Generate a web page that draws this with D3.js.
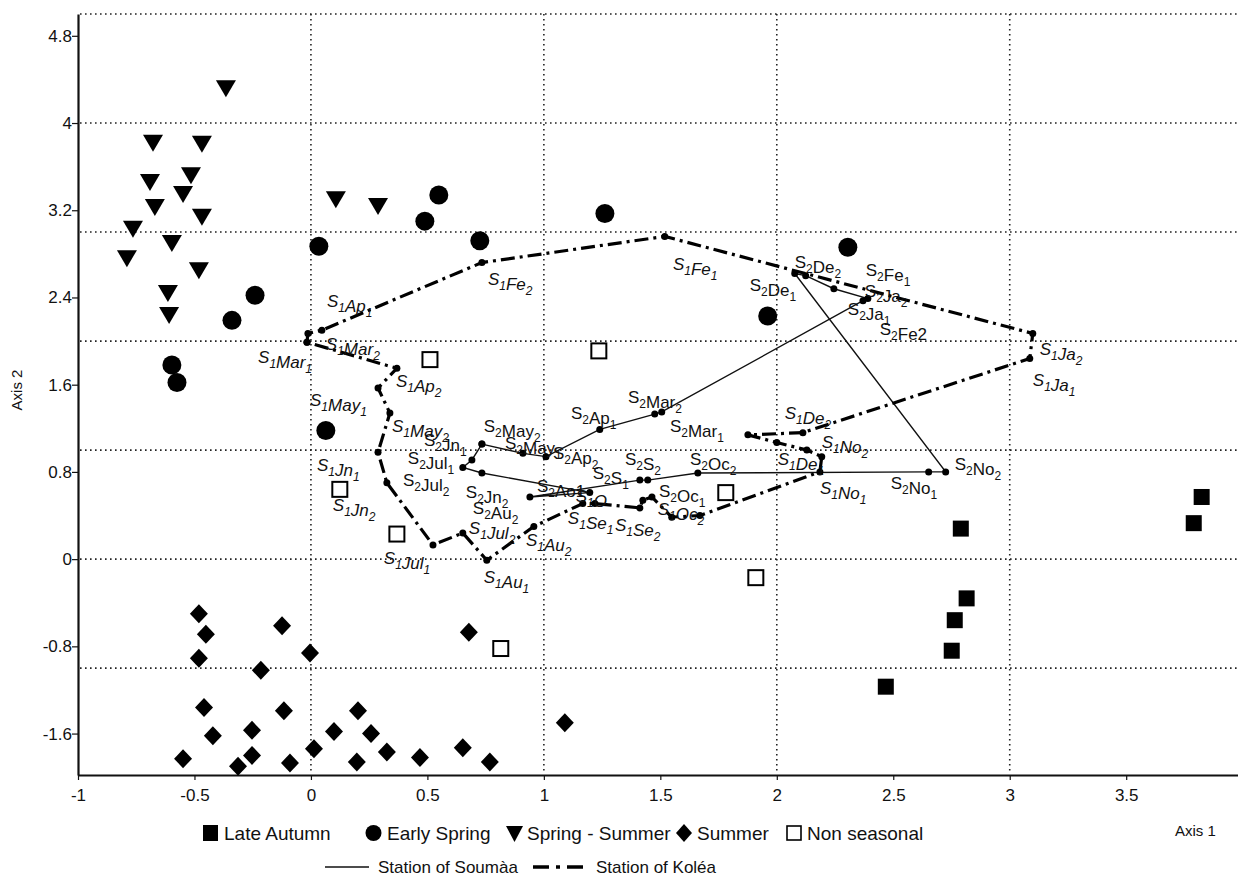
<!DOCTYPE html>
<html>
<head>
<meta charset="utf-8">
<script src="https://cdn.jsdelivr.net/npm/d3@7/dist/d3.min.js"></script>
<style>
  html, body { margin: 0; padding: 0; background: #fff; }
  svg { display: block; }
  text { font-family: "Liberation Sans", Arial, sans-serif; fill: #111; }
</style>
</head>
<body>
<svg id="chart" width="1238" height="881"></svg>
<script>
// ---------------- DATA ----------------
const lateAutumn = [[2.790,0.28],[2.815,-0.36],[2.764,-0.56],[2.751,-0.84],[2.468,-1.17],[3.824,0.57],[3.790,0.33]];
const earlySpring = [[-0.597,1.78],[-0.575,1.62],[-0.339,2.19],[-0.240,2.42],[0.034,2.87],[0.064,1.18],
  [0.489,3.10],[0.549,3.34],[0.725,2.92],[1.262,3.17],[2.305,2.86],[1.961,2.23]];
const springSummer = [[-0.365,4.32],[-0.678,3.82],[-0.468,3.81],[-0.691,3.46],[-0.515,3.52],[-0.549,3.35],
  [-0.670,3.23],[-0.468,3.14],[-0.764,3.03],[-0.597,2.90],[-0.790,2.76],[-0.481,2.65],[-0.614,2.44],
  [-0.609,2.24],[0.107,3.30],[0.288,3.24]];
const summer = [[-0.481,-0.50],[-0.451,-0.69],[-0.481,-0.91],[-0.459,-1.36],[-0.421,-1.62],[-0.549,-1.83],
  [-0.253,-1.57],[-0.253,-1.80],[-0.313,-1.90],[-0.215,-1.02],[-0.124,-0.61],[-0.004,-0.86],[-0.116,-1.39],
  [0.013,-1.74],[-0.090,-1.87],[0.099,-1.58],[0.202,-1.39],[0.197,-1.86],[0.326,-1.77],[0.258,-1.60],
  [0.468,-1.82],[0.652,-1.73],[0.768,-1.86],[0.678,-0.67],[1.090,-1.50]];
const nonSeasonal = [[0.511,1.83],[1.236,1.91],[0.124,0.64],[0.369,0.23],[1.781,0.61],[1.910,-0.17],[0.815,-0.82]];

// Station of Koléa trajectory (closed loop)
const kolea = [[-0.017,1.99],[-0.013,2.07],[0.047,2.10],[0.734,2.72],[1.519,2.96],[3.099,2.07],[3.086,1.84],
  [2.112,1.16],[1.876,1.14],[2.000,1.07],[2.129,1.00],[2.193,0.94],[2.185,0.80],[1.670,0.40],[1.549,0.385],
  [1.464,0.57],[1.425,0.54],[1.412,0.47],[1.219,0.51],[1.167,0.51],[0.957,0.30],[0.755,-0.01],[0.652,0.24],
  [0.524,0.13],[0.326,0.70],[0.288,0.98],[0.339,1.34],[0.288,1.57],[0.369,1.75],[-0.017,1.99]];
// Station of Soumàa trajectory (closed loop)
const soumaa = [[0.734,1.055],[0.691,0.91],[0.652,0.84],[0.734,0.79],[1.197,0.61],[0.940,0.57],[1.412,0.725],
  [1.446,0.725],[1.661,0.79],[2.652,0.80],[2.725,0.80],[2.077,2.62],[2.124,2.60],[2.245,2.48],[2.391,2.39],
  [2.370,2.37],[1.506,1.35],[1.476,1.33],[1.240,1.19],[1.009,0.94],[0.910,0.97],[0.734,1.055]];

const koleaLabels = [["S_1Fe_2",0.760,2.514],["S_1Fe_1",1.554,2.651],["S_1Ap_1",0.069,2.312],["S_1Mar_2",0.064,1.917],
  ["S_1Mar_1",-0.227,1.798],["S_1Ap_2",0.365,1.578],["S_1May_1",-0.004,1.404],["S_1May_2",0.348,1.165],
  ["S_1Jn_1",0.026,0.807],["S_1Jn_2",0.094,0.440],["S_1Jul_1",0.313,-0.046],["S_1Jul_2",0.678,0.229],
  ["S_1Au_1",0.742,-0.220],["S_1Au_2",0.923,0.119],["S_1Se_1",1.103,0.321],["S_1Se_2",1.305,0.257],
  ["S_1O",1.137,0.523],["S_1Oc_2",1.489,0.404],["S_1De_1",2.004,0.862],["S_1De_2",2.034,1.284],
  ["S_1No_2",2.193,1.018],["S_1No_1",2.185,0.596],["S_1Ja_2",3.129,1.872],["S_1Ja_1",3.099,1.587]];
const soumaaLabels = [["S_2De_2",2.077,2.670],["S_2De_1",1.884,2.459],["S_2Fe_1",2.382,2.596],["S_2Ja_2",2.378,2.404],
  ["S_2Ja_1",2.305,2.239],["S_2Fe2",2.442,2.055],["S_2Mar_2",1.361,1.431],["S_2Mar_1",1.541,1.165],
  ["S_2Ap_1",1.116,1.284],["S_2May_2",0.742,1.165],["S_2May_1",0.833,1.009],["S_2Ap_2",1.039,0.917],
  ["S_2Jn_1",0.485,1.037],["S_2Jul_1",0.416,0.872],["S_2Jul_2",0.395,0.670],["S_2Jn_2",0.665,0.560],
  ["S_2Au_2",0.695,0.413],["S_2Ao1",0.970,0.615],["S_2S_1",1.210,0.734],["S_2S_2",1.348,0.862],
  ["S_2Oc_2",1.627,0.862],["S_2Oc_1",1.494,0.569],["S_2No_1",2.489,0.642],["S_2No_2",2.764,0.817]];

const yTicks = [-1.6,-0.8,0,0.8,1.6,2.4,3.2,4,4.8];
const xTicks = [-1,-0.5,0,0.5,1,1.5,2,2.5,3,3.5];
const yGrid = [-1,0,1,2,3,4,5];
const xGrid = [0,1,2,3];
const legendItems = ["Late Autumn","Early Spring","Spring - Summer","Summer","Non seasonal"];
const lineLegend = ["Station of Soumàa","Station of Koléa"];

// ---------------- DRAW ----------------
const svg = d3.select("#chart");
const x = d3.scaleLinear().domain([-1, 3.98]).range([78, 1238]);
const y = d3.scaleLinear().domain([-1.98, 5.0]).range([775, 14]);
const fmt = d => String(+d.toFixed(1));

// gridlines
const grid = svg.append("g").attr("stroke","#222").attr("stroke-width",1.6).attr("stroke-dasharray","1.6,3.4");
grid.selectAll(".hg").data(yGrid).join("line")
  .attr("x1", 80).attr("x2", 1238).attr("y1", d => y(d)).attr("y2", d => y(d));
grid.selectAll(".vg").data(xGrid).join("line")
  .attr("y1", 14).attr("y2", 773).attr("x1", d => x(d)).attr("x2", d => x(d));

// axes
const yAxis = svg.append("g").attr("transform","translate(78,0)")
  .call(d3.axisLeft(y).tickValues(yTicks).tickFormat(fmt).tickSize(6).tickSizeOuter(0));
const xAxis = svg.append("g").attr("transform","translate(0,775)")
  .call(d3.axisBottom(x).tickValues(xTicks).tickFormat(fmt).tickSize(5).tickSizeOuter(0));
[yAxis, xAxis].forEach(g => {
  g.select(".domain").attr("stroke","#111").attr("stroke-width",2.2);
  g.selectAll(".tick line").attr("stroke","#111").attr("stroke-width",1.2);
  g.selectAll(".tick text").attr("font-size",17).attr("fill","#111")
   .attr("font-family",'"Liberation Sans", Arial, sans-serif');
});
yAxis.selectAll(".tick text").attr("x",-6);
xAxis.selectAll(".tick text").attr("y",14);

svg.append("text").attr("transform","translate(22,390) rotate(-90)").attr("text-anchor","middle")
  .attr("font-size",15).text("Axis 2");
svg.append("text").attr("x",1175).attr("y",836).attr("font-size",15).text("Axis 1");

// markers
const triPath = "M-10,-8L10,-8L0,9Z";
const diaPath = "M0,-9.5L9,0L0,9.5L-9,0Z";
svg.append("g").selectAll("path").data(springSummer).join("path")
  .attr("d", triPath).attr("fill","#000")
  .attr("transform", d => `translate(${x(d[0])},${y(d[1])})`);
svg.append("g").selectAll("circle").data(earlySpring).join("circle")
  .attr("cx", d => x(d[0])).attr("cy", d => y(d[1])).attr("r", 9.5).attr("fill","#000");
svg.append("g").selectAll("rect").data(lateAutumn).join("rect")
  .attr("x", d => x(d[0]) - 8).attr("y", d => y(d[1]) - 8).attr("width",16).attr("height",16).attr("fill","#000");
svg.append("g").selectAll("path").data(summer).join("path")
  .attr("d", diaPath).attr("fill","#000")
  .attr("transform", d => `translate(${x(d[0])},${y(d[1])})`);
svg.append("g").selectAll("rect").data(nonSeasonal).join("rect")
  .attr("x", d => x(d[0]) - 7.5).attr("y", d => y(d[1]) - 7.5).attr("width",15).attr("height",15)
  .attr("fill","#fff").attr("stroke","#000").attr("stroke-width",2);

// trajectories
const line = d3.line().x(d => x(d[0])).y(d => y(d[1]));
svg.append("path").datum(soumaa).attr("d", line).attr("fill","none").attr("stroke","#111").attr("stroke-width",1.4);
svg.append("path").datum(kolea).attr("d", line).attr("fill","none").attr("stroke","#000")
  .attr("stroke-width",3.2).attr("stroke-dasharray","14,5,3,5");
svg.append("g").selectAll("circle").data(soumaa.concat(kolea)).join("circle")
  .attr("cx", d => x(d[0])).attr("cy", d => y(d[1])).attr("r", 3.5).attr("fill","#000");

// labels with subscripts
function drawLabel(g, lab, italic) {
  const t = g.append("text").attr("x", x(lab[1])).attr("y", y(lab[2]))
    .attr("font-size", 17).attr("font-style", italic ? "italic" : "normal");
  const s = lab[0];
  let i = 0, buf = "";
  const flush = () => { if (buf) { t.append("tspan").text(buf); buf = ""; } };
  while (i < s.length) {
    if (s[i] === "_") {
      flush();
      t.append("tspan").attr("font-size", 12).attr("dy", 5).text(s[i+1]);
      i += 2;
      if (i < s.length) { t.append("tspan").attr("dy", -5).text(""); }
    } else { buf += s[i]; i++; }
  }
  flush();
}
const lg = svg.append("g");
koleaLabels.forEach(l => drawLabel(lg, l, true));
soumaaLabels.forEach(l => drawLabel(lg, l, false));

// legend row 1
const leg = svg.append("g").attr("font-size", 19);
const legX = [203, 366, 506, 676, 786];
const legSym = [
  g => g.append("rect").attr("x",0).attr("y",-8).attr("width",15).attr("height",16).attr("fill","#000"),
  g => g.append("circle").attr("cx",7.5).attr("cy",0).attr("r",8).attr("fill","#000"),
  g => g.append("path").attr("d","M0,-7L17,-7L8.5,9Z").attr("fill","#000"),
  g => g.append("path").attr("d","M8,-9L16,0L8,9L0,0Z").attr("fill","#000"),
  g => g.append("rect").attr("x",1).attr("y",-7).attr("width",14).attr("height",14).attr("fill","#fff").attr("stroke","#000").attr("stroke-width",1.6)
];
legendItems.forEach((name, i) => {
  const g = leg.append("g").attr("transform", `translate(${legX[i]},833)`);
  legSym[i](g);
  g.append("text").attr("x", 21).attr("y", 7).text(name);
});
// legend row 2
const leg2 = svg.append("g").attr("font-size", 17);
leg2.append("line").attr("x1",325).attr("x2",369).attr("y1",867).attr("y2",867).attr("stroke","#111").attr("stroke-width",1.4);
leg2.append("text").attr("x",378).attr("y",873).text(lineLegend[0]);
leg2.append("line").attr("x1",533).attr("x2",583).attr("y1",867).attr("y2",867).attr("stroke","#000")
  .attr("stroke-width",3.5).attr("stroke-dasharray","16,7,4,7");
leg2.append("text").attr("x",596).attr("y",873).text(lineLegend[1]);
</script>
</body>
</html>
